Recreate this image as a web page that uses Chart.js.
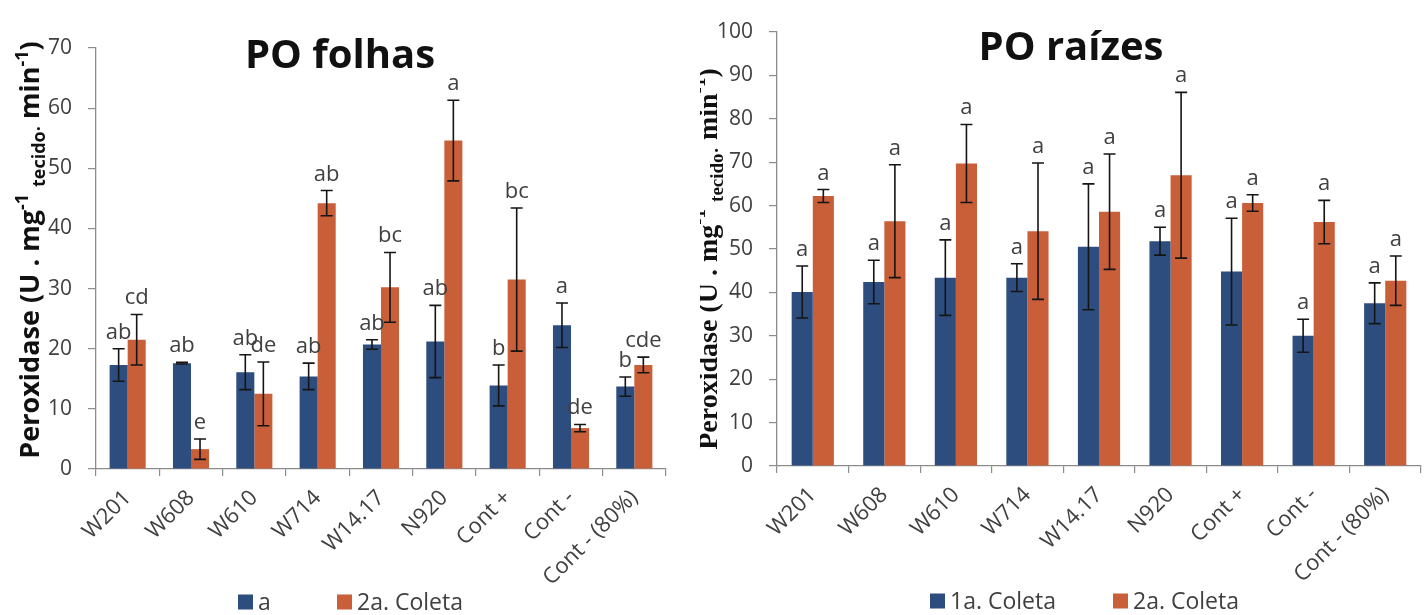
<!DOCTYPE html>
<html>
<head>
<meta charset="utf-8">
<script src="https://cdn.jsdelivr.net/npm/chart.js@4.4.1/dist/chart.umd.min.js"></script>
<style>
  html, body { margin: 0; padding: 0; background: #ffffff; }
  #wrap { position: relative; width: 1424px; height: 615px; overflow: hidden; }
  .panel { position: absolute; top: 0; height: 615px; }
</style>
</head>
<body>
<div id="wrap">
  <div class="panel" style="left:0;width:700px"><canvas id="folhas"></canvas></div>
  <div class="panel" style="left:700px;width:724px"><canvas id="raizes"></canvas></div>
</div>
<script>
// Treatments (x categories, shared by both panels)
const categories = ['W201', 'W608', 'W610', 'W714', 'W14.17', 'N920', 'Cont +', 'Cont -', 'Cont - (80%)'];

// Peroxidase activity in leaves (folhas)
const folhasColeta1    = [17.3, 17.6, 16.1, 15.4, 20.7, 21.2, 13.9, 23.9, 13.7];
const folhasColeta1Err = [2.7, 0.15, 2.9, 2.2, 0.8, 6.0, 3.4, 3.7, 1.6];
const folhasColeta2    = [21.5, 3.3, 12.5, 44.2, 30.2, 54.6, 31.5, 6.8, 17.3];
const folhasColeta2Err = [4.2, 1.7, 5.3, 2.1, 5.8, 6.7, 11.9, 0.6, 1.3];
const folhasLetras1    = ['ab', 'ab', 'ab', 'ab', 'ab', 'ab', 'b', 'a', 'b'];
const folhasLetras2    = ['cd', 'e', 'de', 'ab', 'bc', 'a', 'bc', 'de', 'cde'];
const folhasTicks      = [0, 10, 20, 30, 40, 50, 60, 70];

// Peroxidase activity in roots (raízes)
const raizesColeta1    = [40.1, 42.4, 43.4, 43.4, 50.5, 51.8, 44.8, 30.0, 37.5];
const raizesColeta1Err = [6.0, 5.0, 8.7, 3.2, 14.5, 3.2, 12.3, 3.8, 4.7];
const raizesColeta2    = [62.2, 56.4, 69.7, 54.1, 58.6, 67.0, 60.6, 56.2, 42.7];
const raizesColeta2Err = [1.5, 13.0, 9.0, 15.7, 13.3, 19.1, 1.9, 5.0, 5.7];
const raizesLetras1    = ['a', 'a', 'a', 'a', 'a', 'a', 'a', 'a', 'a'];
const raizesLetras2    = ['a', 'a', 'a', 'a', 'a', 'a', 'a', 'a', 'a'];
const raizesTicks      = [0, 10, 20, 30, 40, 50, 60, 70, 80, 90, 100];

const BLUE = '#2E4D7F';
const ORANGE = '#C95F38';
const AXIS = '#8c8c8c';
const TEXT = '#404040';

// Error bars (mean ± err) plus significance letters above each bar
const errorBars = {
  id: 'errorBars',
  afterDatasetsDraw(chart) {
    const ctx = chart.ctx;
    const y = chart.scales.y;
    chart.data.datasets.forEach((ds, i) => {
      const meta = chart.getDatasetMeta(i);
      meta.data.forEach((bar, j) => {
        const v = ds.data[j], e = ds.err[j];
        const yHi = y.getPixelForValue(v + e);
        const yLo = y.getPixelForValue(v - e);
        ctx.save();
        ctx.strokeStyle = '#151515';
        ctx.lineWidth = 1.6;
        ctx.beginPath();
        ctx.moveTo(bar.x, yHi); ctx.lineTo(bar.x, yLo);
        ctx.moveTo(bar.x - 6, yHi); ctx.lineTo(bar.x + 6, yHi);
        ctx.moveTo(bar.x - 6, yLo); ctx.lineTo(bar.x + 6, yLo);
        ctx.stroke();
        ctx.fillStyle = TEXT;
        ctx.font = '22px "Open Sans"';
        ctx.textAlign = 'center';
        ctx.textBaseline = 'alphabetic';
        ctx.fillText(ds.letters[j], bar.x, yHi - 10);
        ctx.restore();
      });
    });
  }
};

// Panel title, rotated y-axis title with sub/superscripts, and legend
const decorations = {
  id: 'decorations',
  afterDraw(chart, args, o) {
    const ctx = chart.ctx;
    ctx.save();
    // title
    ctx.fillStyle = '#111';
    ctx.font = 'bold 40px "Open Sans"';
    ctx.textAlign = 'center';
    ctx.textBaseline = 'alphabetic';
    ctx.fillText(o.title, o.titleX, o.titleY);

    // y-axis title
    const fam = o.yFont, size = o.ySize, small = Math.round(size * 0.68);
    const parts = [
      { t: 'Peroxidase (U . mg', f: size, dy: 0 },
      { t: '-1', f: small, dy: -size * 0.42 },
      { t: ' ', f: size, dy: 0 },
      { t: 'tecido·', f: small, dy: size * 0.22 },
      { t: ' min', f: size, dy: 0 },
      { t: '-1', f: small, dy: -size * 0.42 },
      { t: ')', f: size, dy: 0 }
    ];
    let total = 0;
    parts.forEach(p => { ctx.font = `bold ${p.f}px ${fam}`; p.w = ctx.measureText(p.t).width; total += p.w; });
    ctx.translate(o.yTitleX, o.yTitleY);
    ctx.rotate(-Math.PI / 2);
    ctx.fillStyle = '#111';
    ctx.textAlign = 'left';
    let x = -total / 2;
    parts.forEach(p => { ctx.font = `bold ${p.f}px ${fam}`; ctx.fillText(p.t, x, p.dy); x += p.w; });
    ctx.restore();

    // legend
    ctx.save();
    ctx.font = '23px "Open Sans"';
    ctx.textBaseline = 'middle';
    ctx.textAlign = 'left';
    chart.data.datasets.forEach((ds, i) => {
      const lx = o.legendX[i];
      ctx.fillStyle = ds.backgroundColor;
      ctx.fillRect(lx, o.legendY - 7.5, 15, 15);
      ctx.fillStyle = TEXT;
      ctx.fillText(ds.label, lx + 20, o.legendY + 1);
    });
    ctx.restore();
  }
};

function makePanel(id, cfg) {
  return new Chart(document.getElementById(id), {
    type: 'bar',
    data: {
      labels: categories,
      datasets: [
        { label: cfg.names[0], data: cfg.s1, err: cfg.e1, letters: cfg.l1, backgroundColor: BLUE, borderWidth: 0 },
        { label: cfg.names[1], data: cfg.s2, err: cfg.e2, letters: cfg.l2, backgroundColor: ORANGE, borderWidth: 0 }
      ]
    },
    options: {
      responsive: true,
      maintainAspectRatio: false,
      animation: false,
      layout: { padding: cfg.padding },
      datasets: { bar: { categoryPercentage: cfg.catPct, barPercentage: 1.0 } },
      plugins: {
        legend: { display: false },
        tooltip: { enabled: false },
        decorations: cfg.deco
      },
      scales: {
        x: {
          offset: true,
          grid: { offset: true, drawOnChartArea: false, drawTicks: true, tickLength: 7, color: AXIS, lineWidth: 1.2 },
          border: { color: AXIS, width: 1.3 },
          ticks: { minRotation: 45, maxRotation: 45, autoSkip: false, color: TEXT, padding: 9,
                   font: { family: 'Open Sans', size: 22 } },
          afterFit(s) { s.height = cfg.xHeight; }
        },
        y: {
          min: cfg.ticks[0],
          max: cfg.ticks[cfg.ticks.length - 1],
          grid: { drawOnChartArea: false, drawTicks: true, tickLength: 8, color: AXIS, lineWidth: 1.2 },
          border: { color: AXIS, width: 1.3 },
          ticks: { color: TEXT, padding: 16, font: { family: 'Open Sans', size: 21 } },
          afterBuildTicks(s) { s.ticks = cfg.ticks.map(v => ({ value: v })); },
          afterFit(s) { s.width = cfg.yWidth; }
        }
      }
    },
    plugins: [errorBars, decorations]
  });
}

makePanel('folhas', {
  names: ['a', '2a. Coleta'],
  s1: folhasColeta1, e1: folhasColeta1Err, l1: folhasLetras1,
  s2: folhasColeta2, e2: folhasColeta2Err, l2: folhasLetras2,
  ticks: folhasTicks,
  padding: { top: 48, left: 0, right: 34, bottom: 0 },
  yWidth: 96, xHeight: 146, catPct: 0.57,
  deco: { title: 'PO folhas', titleX: 340, titleY: 68,
          yFont: '"Open Sans"', ySize: 27, yTitleX: 39, yTitleY: 250,
          legendX: [238, 337], legendY: 602 }
});

makePanel('raizes', {
  names: ['1a. Coleta', '2a. Coleta'],
  s1: raizesColeta1, e1: raizesColeta1Err, l1: raizesLetras1,
  s2: raizesColeta2, e2: raizesColeta2Err, l2: raizesLetras2,
  ticks: raizesTicks,
  padding: { top: 32, left: 0, right: 3, bottom: 0 },
  yWidth: 77, xHeight: 149, catPct: 0.59,
  deco: { title: 'PO raízes', titleX: 371, titleY: 60,
          yFont: '"Liberation Serif"', ySize: 28, yTitleX: 17, yTitleY: 259,
          legendX: [230, 413], legendY: 601 }
});
</script>
</body>
</html>
